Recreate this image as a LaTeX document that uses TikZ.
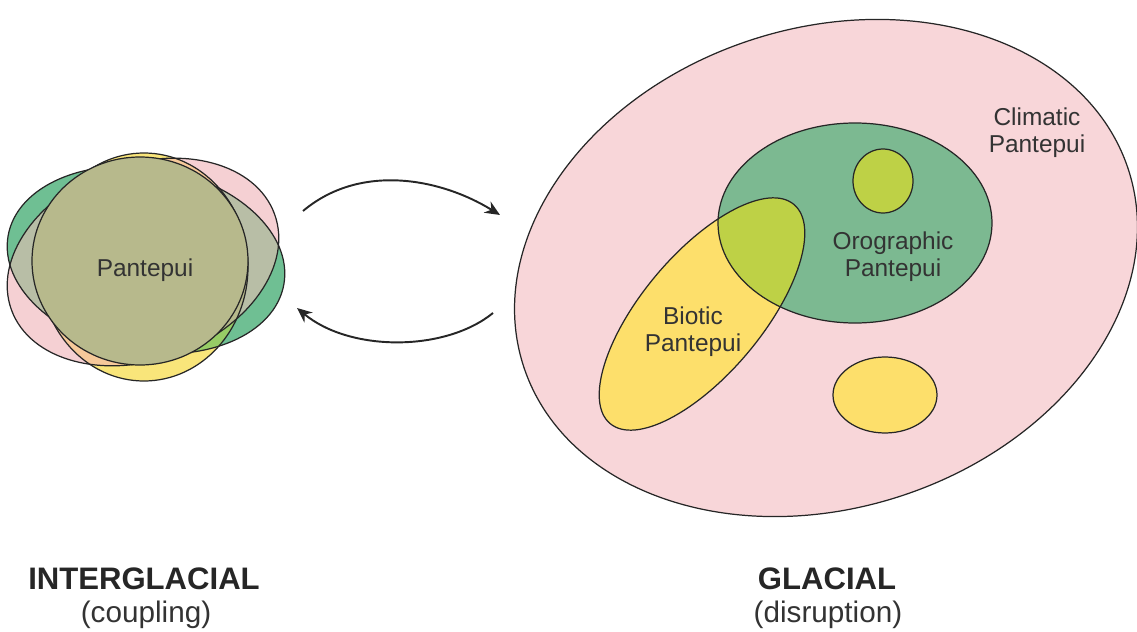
\documentclass[tikz,border=0pt]{standalone}
\usepackage{fontspec}
\setmainfont{Liberation Sans}
\usetikzlibrary{arrows.meta}
% fills of the left (interglacial) cluster
\definecolor{greenI}{HTML}{6FBF93}
\definecolor{pinkI}{HTML}{F5D0D3}
\definecolor{yellowI}{HTML}{F9E57A}
\definecolor{grayI}{HTML}{B8BEA6}
\definecolor{orangeI}{HTML}{F6C99A}
\definecolor{limeI}{HTML}{97CC66}
\definecolor{oliveI}{HTML}{B7B98C}
% fills of the right (glacial) cluster
\definecolor{pinkG}{HTML}{F8D6D9}
\definecolor{greenG}{HTML}{7CB991}
\definecolor{yellowG}{HTML}{FDDF6B}
\definecolor{limeG}{HTML}{BED146}

\begin{document}
\begin{tikzpicture}[x=0.02cm, y=-0.02cm,
           > = {Stealth[length=3mm, width=2.6mm]},
  outline/.style = {draw=black!85, line width=0.7pt},% borders of the areas
    label/.style = {text=black!80, align=center, inner sep=0pt,
                    font=\fontsize{13.9}{15.4}\selectfont},
    title/.style = {text=black!85, anchor=base, inner sep=0pt,
                    font=\fontsize{17.7}{19}\selectfont\bfseries},
 subtitle/.style = {text=black!80, anchor=base, inner sep=0pt,
                    font=\fontsize{16.9}{18}\selectfont},
    cycle/.style = {->, line width=1.1pt, draw=black!85},
]
\useasboundingbox (0,0) rectangle (1137,632);

% interglacial: overlapping areas
\fill[greenI, rotate around={-10:(146,260)}] (146,260) ellipse [x radius=140, y radius=92];
\fill[pinkI, rotate around={20:(143,262)}] (143,262) ellipse [x radius=140, y radius=98];
\fill[yellowI] (144,267) ellipse [x radius=104, y radius=114];
\begin{scope}
\clip[rotate around={-10:(146,260)}] (146,260) ellipse [x radius=140, y radius=92];
\fill[grayI, rotate around={20:(143,262)}] (143,262) ellipse [x radius=140, y radius=98];
\end{scope}
\begin{scope}
\clip[rotate around={20:(143,262)}] (143,262) ellipse [x radius=140, y radius=98];
\fill[orangeI] (144,267) ellipse [x radius=104, y radius=114];
\end{scope}
\begin{scope}
\clip[rotate around={-10:(146,260)}] (146,260) ellipse [x radius=140, y radius=92];
\fill[limeI] (144,267) ellipse [x radius=104, y radius=114];
\clip[rotate around={20:(143,262)}] (143,262) ellipse [x radius=140, y radius=98];
\fill[oliveI] (144,267) ellipse [x radius=104, y radius=114];
\end{scope}
% interglacial: borders, the common core lies on top
\draw[outline, rotate around={-10:(146,260)}] (146,260) ellipse [x radius=140, y radius=92];
\draw[outline, rotate around={20:(143,262)}] (143,262) ellipse [x radius=140, y radius=98];
\draw[outline] (144,267) ellipse [x radius=104, y radius=114];
\draw[outline, fill=oliveI] (140,261) ellipse [x radius=108, y radius=104];
\node[label] (pantepui) at (145,270) {Pantepui};

% glacial: areas
\fill[pinkG, rotate around={18:(826,268)}] (826,268) ellipse [x radius=318, y radius=240];
\fill[greenG] (855,223) ellipse [x radius=137, y radius=100];
\fill[yellowG, rotate around={50:(702,314)}] (702,314) ellipse [x radius=143, y radius=60];
\begin{scope}
\clip (855,223) ellipse [x radius=137, y radius=100];
\fill[limeG, rotate around={50:(702,314)}] (702,314) ellipse [x radius=143, y radius=60];
\end{scope}
\fill[limeG] (883,181) ellipse [x radius=30, y radius=32];
\fill[yellowG] (885,395) ellipse [x radius=52, y radius=38];
% glacial: borders
\draw[outline, rotate around={18:(826,268)}] (826,268) ellipse [x radius=318, y radius=240];
\draw[outline] (855,223) ellipse [x radius=137, y radius=100];
\draw[outline, rotate around={50:(702,314)}] (702,314) ellipse [x radius=143, y radius=60];
\draw[outline] (883,181) ellipse [x radius=30, y radius=32];
\draw[outline] (885,395) ellipse [x radius=52, y radius=38];
\node[label] (climatic) at (1037,133) {Climatic\\Pantepui};
\node[label] (orographic) at (893,257) {Orographic\\Pantepui};
\node[label] (biotic) at (693,332) {Biotic\\Pantepui};

% transitions between the two stages
\coordinate (to-glacial-a) at (303,211);
\coordinate (to-glacial-b) at (500,215);
\coordinate (to-inter-a) at (493,313);
\coordinate (to-inter-b) at (297,308);
\draw[cycle] (to-glacial-a) .. controls (360,163) and (440,178) .. (to-glacial-b);
\draw[cycle] (to-inter-a) .. controls (445,352) and (350,352) .. (to-inter-b);

% stage names
\node[title] (interglacial) at (144,589) {INTERGLACIAL};
\node[subtitle] (coupling) at (146,622) {(coupling)};
\node[title] (glacial) at (827,589) {GLACIAL};
\node[subtitle] (disruption) at (828,622) {(disruption)};
\end{tikzpicture}
\end{document}
